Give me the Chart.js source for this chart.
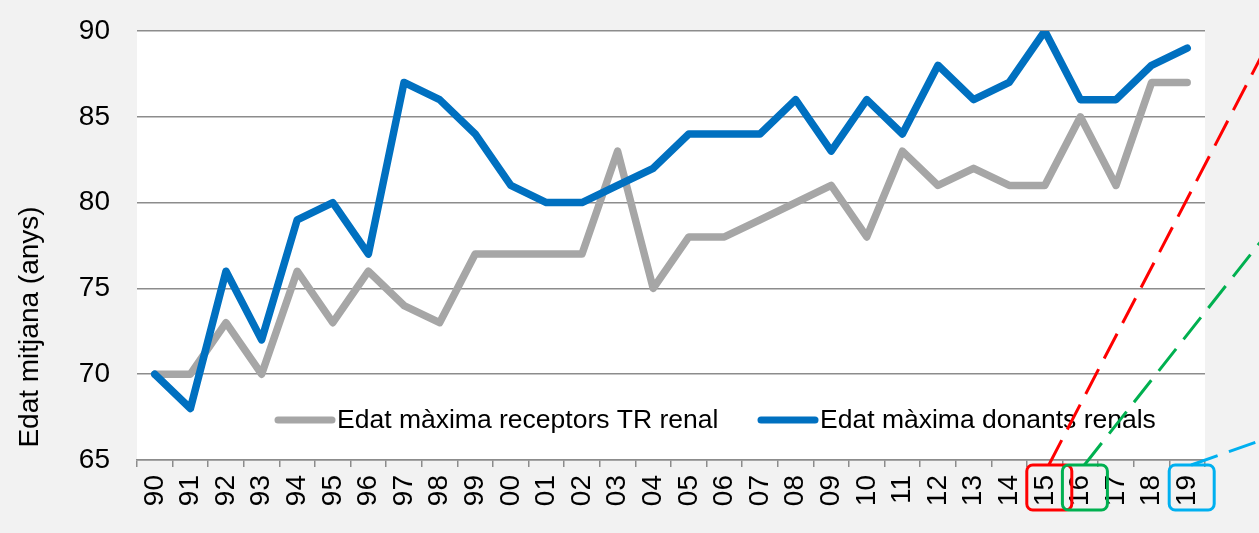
<!DOCTYPE html>
<html>
<head>
<meta charset="utf-8">
<script src="https://cdn.jsdelivr.net/npm/chart.js@4.4.1/dist/chart.umd.min.js"></script>
<style>
  html, body { margin: 0; padding: 0; background: #f2f2f2; }
  #wrap { width: 1259px; height: 533px; position: relative; }
</style>
</head>
<body>
<div id="wrap"><canvas id="grafic"></canvas></div>
<script>
const anys = ['90','91','92','93','94','95','96','97','98','99','00','01','02','03','04',
              '05','06','07','08','09','10','11','12','13','14','15','16','17','18','19'];
const receptors = [70,70,73,70,76,73,76,74,73,77,77,77,77,83,75,78,78,79,80,81,78,83,81,82,81,81,85,81,87,87];
const donants   = [70,68,76,72,79,80,77,87,86,84,81,80,80,81,82,84,84,84,86,83,86,84,88,86,87,90,86,86,88,89];
const yTicks = [65,70,75,80,85,90];
// anys marcats amb requadre i línia discontínua
const marcats = [
  { any: '15', color: '#ff0000', fins: [1262, 55] },
  { any: '16', color: '#00b050', fins: [1262, 240] },
  { any: '19', color: '#00b0f0', fins: [1262, 440] }
];

const FONT = "'Liberation Sans', Arial, sans-serif";

// fons blanc de l'àrea del gràfic
const fonsBlanc = {
  id: 'fonsBlanc',
  beforeDraw(chart) {
    const a = chart.chartArea, ctx = chart.ctx;
    ctx.save();
    ctx.fillStyle = '#ffffff';
    ctx.fillRect(a.left, a.top, a.right - a.left, a.bottom - a.top);
    ctx.restore();
  }
};

// llegenda dins del gràfic, títol de l'eix i marques
const extres = {
  id: 'extres',
  afterDraw(chart) {
    const ctx = chart.ctx, a = chart.chartArea;
    ctx.save();

    // títol eix Y
    ctx.fillStyle = '#000';
    ctx.font = '28px ' + FONT;
    ctx.translate(30, 327);
    ctx.rotate(-Math.PI / 2);
    ctx.textAlign = 'center';
    ctx.textBaseline = 'middle';
    ctx.fillText('Edat mitjana (anys)', 0, 0);
    ctx.restore();

    // llegenda
    ctx.save();
    const items = [
      { ds: chart.data.datasets[0], x: a.left + 141 },
      { ds: chart.data.datasets[1], x: a.left + 624 }
    ];
    const yl = a.top + 389;
    items.forEach(it => {
      ctx.strokeStyle = it.ds.borderColor;
      ctx.lineWidth = 7;
      ctx.lineCap = 'round';
      ctx.beginPath();
      ctx.moveTo(it.x, yl);
      ctx.lineTo(it.x + 54, yl);
      ctx.stroke();
      ctx.fillStyle = '#000';
      ctx.font = '26.5px ' + FONT;
      ctx.textAlign = 'left';
      ctx.textBaseline = 'middle';
      ctx.fillText(it.ds.label, it.x + 59, yl + 1);
    });
    ctx.restore();

    // requadres i línies discontínues
    const xs = chart.scales.x;
    ctx.save();
    marcats.forEach(m => {
      const cx = xs.getPixelForValue(anys.indexOf(m.any)) + 4;
      const top = a.bottom + 5;
      ctx.strokeStyle = m.color;
      ctx.lineWidth = 3;
      ctx.setLineDash([]);
      ctx.beginPath();
      ctx.roundRect(cx - 22, top, 45, 45, 6);
      ctx.stroke();
      ctx.setLineDash([28, 12]);
      ctx.beginPath();
      ctx.moveTo(cx, top);
      ctx.lineTo(m.fins[0], m.fins[1]);
      ctx.stroke();
    });
    ctx.restore();
  }
};

new Chart(document.getElementById('grafic'), {
  type: 'line',
  data: {
    labels: anys,
    datasets: [
      {
        label: 'Edat màxima receptors TR renal',
        data: receptors,
        borderColor: '#a6a6a6',
        borderWidth: 7.5,
        pointRadius: 0,
        tension: 0,
        borderJoinStyle: 'round',
        borderCapStyle: 'round',
        order: 1
      },
      {
        label: 'Edat màxima donants renals',
        data: donants,
        borderColor: '#0070c0',
        borderWidth: 7.5,
        pointRadius: 0,
        tension: 0,
        borderJoinStyle: 'round',
        borderCapStyle: 'round',
        order: 0
      }
    ]
  },
  options: {
    responsive: true,
    maintainAspectRatio: false,
    animation: false,
    layout: { padding: { top: 31, right: 54, left: 0, bottom: 0 } },
    plugins: {
      legend: { display: false },
      tooltip: { enabled: false }
    },
    scales: {
      x: {
        offset: true,
        grid: {
          offset: true,
          drawOnChartArea: false,
          drawTicks: true,
          tickLength: 7,
          color: '#8c8c8c',
          lineWidth: 1.5
        },
        border: { display: true, color: '#8c8c8c', width: 1.5 },
        ticks: {
          minRotation: 90,
          maxRotation: 90,
          autoSkip: false,
          padding: 8,
          color: '#000',
          font: { family: FONT, size: 28 }
        },
        afterFit(scale) { scale.height = 73; }
      },
      y: {
        min: 65,
        max: 90,
        afterBuildTicks(scale) { scale.ticks = yTicks.map(v => ({ value: v })); },
        grid: { drawTicks: false, color: '#8c8c8c', lineWidth: 1.5 },
        border: { display: false },
        ticks: {
          padding: 27,
          color: '#000',
          font: { family: FONT, size: 28 }
        },
        afterFit(scale) {
          scale.width = 137;
          scale.paddingTop = 0;
          scale.paddingBottom = 0;
        }
      }
    }
  },
  plugins: [fonsBlanc, extres]
});
</script>
</body>
</html>
